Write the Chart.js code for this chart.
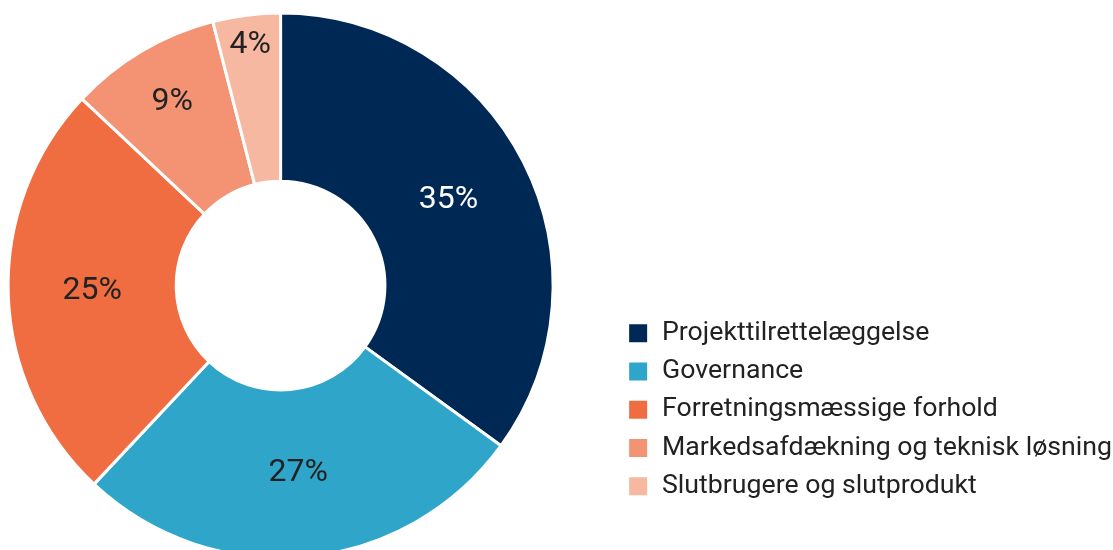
<!DOCTYPE html>
<html>
<head>
<meta charset="utf-8">
<script src="https://cdn.jsdelivr.net/npm/chart.js@4"></script>
<style>
  html, body { margin: 0; padding: 0; background: #fff; overflow: hidden; }
  #view { width: 1113px; height: 550px; position: relative; overflow: hidden; }
  /* canvas a bit wider than the window so the ring can sit close to the left edge */
  #wrap { position: absolute; left: -55px; top: 0; width: 1177px; height: 550px; }
</style>
</head>
<body>
<div id="view"><div id="wrap"><canvas id="chart"></canvas></div></div>
<script>
// data
const categories = [
  'Projekttilrettelæggelse',
  'Governance',
  'Forretningsmæssige forhold',
  'Markedsafdækning og teknisk løsning',
  'Slutbrugere og slutprodukt'
];
const shares = [35, 27, 25, 9, 4];
const colors = ['#002855', '#2fa6c9', '#f06d42', '#f39373', '#f7b8a2'];
const labelColors = ['#ffffff', '#222222', '#222222', '#222222', '#222222'];

// point on the bisector that is farthest from all edges of the slice,
// so narrow slices get their label pushed out towards the rim
function labelPoint(arc) {
  const p = arc.getProps(['x', 'y', 'startAngle', 'endAngle', 'innerRadius', 'outerRadius']);
  const mid = (p.startAngle + p.endAngle) / 2;
  const half = (p.endAngle - p.startAngle) / 2;
  let r = (p.innerRadius + p.outerRadius) / 2;
  if (half < Math.PI / 2) {
    r = Math.max(r, p.outerRadius / (1 + Math.sin(half)));
  }
  return { x: p.x + Math.cos(mid) * r, y: p.y + Math.sin(mid) * r };
}

const sliceLabels = {
  id: 'sliceLabels',
  afterDatasetsDraw(chart) {
    const ctx = chart.ctx;
    const meta = chart.getDatasetMeta(0);
    ctx.save();
    ctx.font = '32px Roboto';
    ctx.textAlign = 'center';
    ctx.textBaseline = 'middle';
    meta.data.forEach((arc, i) => {
      const pos = labelPoint(arc);
      ctx.fillStyle = labelColors[i];
      ctx.fillText(Math.round(shares[i]) + '%', pos.x, pos.y);
    });
    ctx.restore();
  }
};

const ctx = document.getElementById('chart').getContext('2d');
new Chart(ctx, {
  type: 'doughnut',
  data: {
    labels: categories,
    datasets: [{
      data: shares,
      backgroundColor: colors,
      borderColor: '#ffffff',
      borderWidth: 3,
      clip: false
    }]
  },
  options: {
    responsive: true,
    maintainAspectRatio: false,
    animation: false,
    radius: 272.5,
    cutout: '38.3%',
    layout: {
      padding: { left: 0, right: 0, top: 60, bottom: 39 }
    },
    plugins: {
      tooltip: { enabled: false },
      legend: {
        position: 'right',
        align: 'end',
        labels: {
          // the white 3px slice border is also stroked round the box, so 21 shows as 18
          boxWidth: 21,
          boxHeight: 21,
          padding: 11.5,
          color: '#222222',
          font: { family: 'Roboto', size: 26.7 }
        }
      }
    }
  },
  plugins: [sliceLabels]
});
</script>
</body>
</html>
